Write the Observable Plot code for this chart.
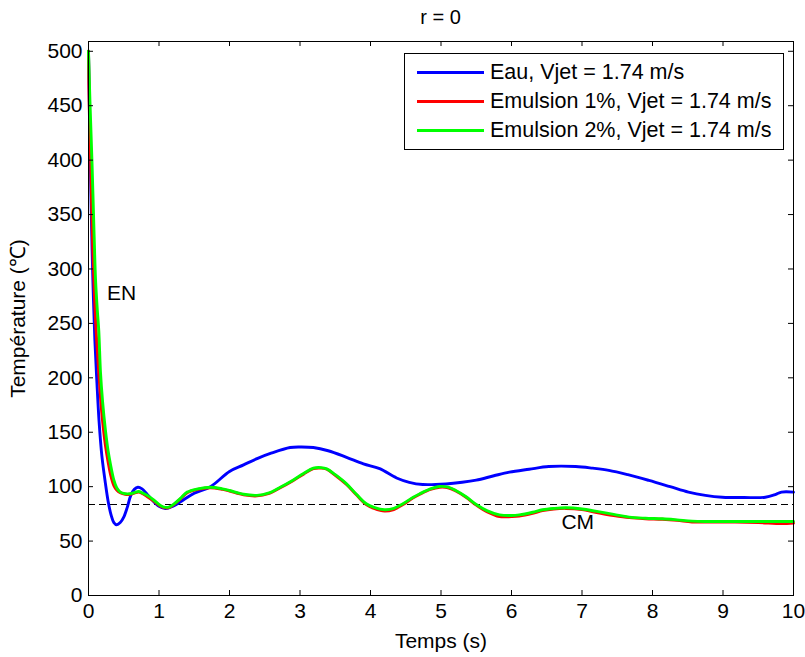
<!DOCTYPE html>
<html><head><meta charset="utf-8">
<script src="https://cdn.jsdelivr.net/npm/d3@7"></script>
<script src="https://cdn.jsdelivr.net/npm/@observablehq/plot@0.6"></script>
<style>
body{margin:0;background:#fff;font-family:"Liberation Sans",Arial,sans-serif;}
#wrap{position:relative;width:805px;height:657px;overflow:hidden;}
#title{height:30px;padding-left:88px;padding-right:12px;text-align:center;font-size:20px;line-height:34px;color:#000;}
#legend{position:absolute;left:404px;top:53px;width:378px;height:95px;border:1px solid #000;background:#fff;font-size:21.5px;}
.row{position:absolute;left:0;height:28px;display:flex;align-items:center;white-space:nowrap;}
.sw{width:67px;height:3px;margin-left:12px;margin-right:6px;}
</style></head><body>
<div id="wrap"><div id="title">r = 0</div><div id="chart"></div><div id="legend"></div></div>
<script>
// ---- data ----
const seriesNames = ["Eau, Vjet = 1.74 m/s", "Emulsion 1%, Vjet = 1.74 m/s", "Emulsion 2%, Vjet = 1.74 m/s"];
const seriesColors = ["#0000ff", "#ff0000", "#00ff00"];

const tEau = [0,0.02,0.04,0.06,0.09,0.12,0.15,0.19,0.24,0.28,0.32,0.36,0.40,0.45,0.50,0.55,0.60,0.65,0.70,0.76,0.82,0.90,1.0,1.09,1.2,1.35,1.5,1.73,2.0,2.2,2.4,2.6,2.86,3.0,3.19,3.4,3.66,3.9,4.13,4.37,4.55,4.74,5.07,5.3,5.5,5.75,5.97,6.25,6.53,6.91,7.15,7.38,7.65,7.95,8.25,8.51,8.75,8.99,9.3,9.6,9.75,9.83,10];
const TEau = [500,420,350,295,235,195,160,128,103,86,74,67,65,67,72,81,92,97.5,99.5,98,94,88,82,80,82,88,94,100,114,120,126,131,136,136.5,136,133,127,121,116.5,108,104,102,102.5,104,106,110,113.3,116,118.5,118.5,117,115,111,105.7,100,95,92,90.3,90,90.3,93,95,95];

const tEm1 = [0,0.01,0.03,0.06,0.1,0.14,0.17,0.2,0.24,0.28,0.31,0.36,0.4,0.45,0.52,0.59,0.65,0.71,0.77,0.83,0.92,1.02,1.09,1.15,1.21,1.3,1.4,1.55,1.73,1.9,2.0,2.2,2.39,2.55,2.72,2.9,3.05,3.19,3.3,3.38,3.5,3.66,3.8,3.94,4.05,4.2,4.33,4.46,4.6,4.7,4.85,4.98,5.1,5.21,5.35,5.5,5.65,5.83,6.0,6.11,6.3,6.44,6.6,6.77,7.0,7.19,7.45,7.67,7.9,8.14,8.35,8.56,8.8,9.17,9.5,9.83,10];
const TEm1 = [500,450,400,320,253,210,182,160,138,122,112,101,97,94.5,93,93,94,95,93.5,91,87,82,80.5,81,83.5,88.5,94.5,97.5,99,97.5,96,92.5,91.5,93.5,99,105.5,111.5,116.5,117,116,110.5,102,92.5,83.5,80,77.5,79,83.5,89.5,93,97.5,99.5,99,96,90.5,83,77,72.5,72.5,73,75.5,78,79.5,80,79,76.5,73.5,71.5,70.5,70,69,67.5,67.5,67.5,67,66,66.5];

const tEm2 = [0,0.02,0.05,0.08,0.1,0.125,0.146,0.17,0.2,0.24,0.28,0.31,0.36,0.4,0.45,0.52,0.59,0.65,0.71,0.77,0.83,0.92,1.02,1.09,1.15,1.21,1.3,1.4,1.55,1.73,1.9,2.0,2.2,2.39,2.55,2.72,2.9,3.05,3.19,3.3,3.38,3.5,3.66,3.8,3.94,4.05,4.2,4.33,4.46,4.6,4.7,4.85,4.98,5.1,5.21,5.35,5.5,5.65,5.83,6.0,6.11,6.3,6.44,6.6,6.77,7.0,7.19,7.45,7.67,7.9,8.14,8.35,8.56,8.8,9.17,9.5,9.8,10];
const TEm2 = [500,455,397,330,290,262,243,205,178,152,132,121,106,99,95,93.5,93.5,94.5,95.6,94,92,88,82.7,81,81.5,84,89,95,98,99.5,98,96.5,93,92,94,99.5,106,112,117,117.5,116.4,111,102.6,93,84.3,81,78.8,80,84.3,90,93.5,98,100.2,99.5,96.5,91,83.6,78,74.1,73.5,74.1,76.5,78.8,80,80.6,79.5,77.5,74.5,72,71,70.5,69.5,68.3,68,68,68,68,68];

const refLevel = [84];
const xTicks = [0,1,2,3,4,5,6,7,8,9,10];
const yTicks = [0,50,100,150,200,250,300,350,400,450,500];
const annotations = [{label:"EN", t:0.47, T:278}, {label:"CM", t:6.94, T:67}];

// ---- build ----
const seriesT = [tEau, tEm1, tEm2];
const seriesV = [TEau, TEm1, TEm2];
const rows = seriesNames.flatMap((name, i) => seriesT[i].map((t, j) => ({name, t, T: seriesV[i][j]})));

const W = 805, H = 627, mL = 88, mR = 12, mT = 11, mB = 62;
const plotW = W - mL - mR, plotH = H - mT - mB;

const chart = Plot.plot({
  width: W, height: H,
  marginLeft: mL, marginRight: mR, marginTop: mT, marginBottom: mB,
  style: {fontSize: "21px", fontFamily: "'Liberation Sans', Arial, sans-serif", color: "#000", background: "#fff"},
  x: {domain: [0, 10], ticks: xTicks, tickFormat: d => String(d), label: "Temps (s)", labelArrow: "none", labelAnchor: "center", labelOffset: 52, tickSize: 0, tickPadding: 8},
  y: {domain: [0, 509], ticks: yTicks, tickFormat: d => String(d), label: "Température (℃)", labelArrow: "none", labelAnchor: "center", labelOffset: 78, tickSize: 0, tickPadding: 6},
  color: {domain: seriesNames, range: seriesColors},
  marks: [
    Plot.ruleY(refLevel, {y: d => d, stroke: "#000", strokeWidth: 1, strokeDasharray: "7,4", shapeRendering: "crispEdges"}),
    Plot.line(rows, {x: "t", y: "T", z: "name", stroke: "name", strokeWidth: 2.9, strokeLinejoin: "round", curve: "catmull-rom"}),
    Plot.text(annotations, {x: "t", y: "T", text: "label", fill: "#000", fontSize: 21}),
    Plot.tickX(xTicks, {x: d => d, stroke: "#000", insetTop: plotH - 5}),
    Plot.tickX(xTicks, {x: d => d, stroke: "#000", insetBottom: plotH - 5}),
    Plot.tickY(yTicks, {y: d => d, stroke: "#000", insetRight: plotW - 5}),
    Plot.tickY(yTicks, {y: d => d, stroke: "#000", insetLeft: plotW - 5}),
    Plot.frame({stroke: "#000", strokeWidth: 1})
  ]
});
document.getElementById("chart").appendChild(chart);

const leg = document.getElementById("legend");
const rowTops = [4, 33.5, 62.5];
seriesNames.forEach((n, i) => {
  const r = document.createElement("div");
  r.className = "row";
  r.style.top = rowTops[i] + "px";
  const sw = document.createElement("div");
  sw.className = "sw";
  sw.style.background = seriesColors[i];
  const tx = document.createElement("span");
  tx.textContent = n;
  r.appendChild(sw); r.appendChild(tx);
  leg.appendChild(r);
});
</script>
</body></html>
